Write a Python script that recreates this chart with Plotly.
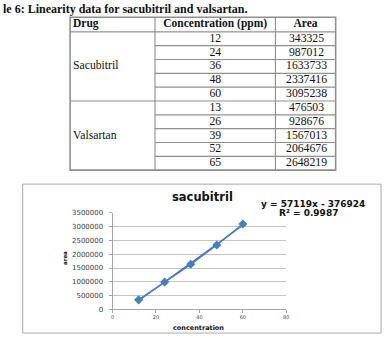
import numpy as np
import plotly.graph_objects as go

# ---------------- data ----------------
caption = "le 6: Linearity data for sacubitril and valsartan."
headers = ["Drug", "Concentration (ppm)", "Area"]
drugs = ["Sacubitril", "Valsartan"]
sac_conc = [12, 24, 36, 48, 60]
sac_area = [343325, 987012, 1633733, 2337416, 3095238]
val_conc = [13, 26, 39, 52, 65]
val_area = [476503, 928676, 1567013, 2064676, 2648219]
chart_title = "sacubitril"
eq_text = "y = 57119x - 376924"
r2_text = "R\u00b2 = 0.9987"
x_title = "concentration"
y_title = "area"
x_ticks = [0, 20, 40, 60, 80]
y_ticks = [0, 500000, 1000000, 1500000, 2000000, 2500000, 3000000, 3500000]

# ---------------- layout geometry (pixels) ----------------
W, H = 389, 338
col_edges = [69, 155, 277, 338]
table_top = 13.5
header_h = 15.0
row_h = 14.17
grid_c = "#8f8f8f"
serif = "Liberation Serif"
sans = "DejaVu Sans"
blue = "#4a7ebb"

fig = go.Figure()

# ---- table text (on a pixel-scaled hidden axis pair) ----
conc_all = sac_conc + val_conc
area_all = sac_area + val_area
body_top = table_top + header_h
row_y = [body_top + (i + 0.5) * row_h for i in range(len(conc_all))]
c2 = (col_edges[1] + col_edges[2]) / 2
c3 = (col_edges[2] + col_edges[3]) / 2 + 1

fig.add_trace(go.Scatter(
    x=[c2] * len(conc_all), y=row_y, text=[str(v) for v in conc_all],
    mode="text", textposition="middle center",
    textfont=dict(family=serif, size=11.7, color="#111"),
    xaxis="x2", yaxis="y2", hoverinfo="skip", showlegend=False))
fig.add_trace(go.Scatter(
    x=[c3] * len(area_all), y=row_y, text=[str(v) for v in area_all],
    mode="text", textposition="middle center",
    textfont=dict(family=serif, size=11.7, color="#111"),
    xaxis="x2", yaxis="y2", hoverinfo="skip", showlegend=False))
n_per = len(sac_conc)
drug_y = [body_top + (k * n_per + n_per / 2) * row_h for k in range(len(drugs))]
fig.add_trace(go.Scatter(
    x=[col_edges[0] + 3] * len(drugs), y=drug_y, text=drugs,
    mode="text", textposition="middle right",
    textfont=dict(family=serif, size=11.7, color="#111"),
    xaxis="x2", yaxis="y2", hoverinfo="skip", showlegend=False))
head_y = table_top + header_h / 2
fig.add_trace(go.Scatter(
    x=[col_edges[0] + 3], y=[head_y], text=[headers[0]],
    mode="text", textposition="middle right",
    textfont=dict(family=serif, size=11.5, color="#111", weight="bold"),
    xaxis="x2", yaxis="y2", hoverinfo="skip", showlegend=False))
fig.add_trace(go.Scatter(
    x=[c2, c3 - 1], y=[head_y, head_y], text=headers[1:],
    mode="text", textposition="middle center",
    textfont=dict(family=serif, size=11.5, color="#111", weight="bold"),
    xaxis="x2", yaxis="y2", hoverinfo="skip", showlegend=False))

# ---- chart ----
fit = np.polyfit(sac_conc, sac_area, 1)
fx = [min(sac_conc), max(sac_conc)]
fig.add_trace(go.Scatter(
    x=fx, y=list(np.polyval(fit, fx)), mode="lines",
    line=dict(color="#3f6fa8", width=1.2), hoverinfo="skip", showlegend=False))
fig.add_trace(go.Scatter(
    x=sac_conc, y=sac_area, mode="lines+markers",
    line=dict(color=blue, width=1.5),
    marker=dict(symbol="diamond", size=7, color=blue),
    showlegend=False))

# ---- shapes ----
shapes = []
def line(x0, y0, x1, y1, w=1.1, c=grid_c):
    shapes.append(dict(type="line", xref="x2", yref="y2", x0=x0, y0=y0, x1=x1, y1=y1,
                       line=dict(color=c, width=w)))

t_bot = body_top + row_h * len(conc_all)
# inner horizontal lines
line(col_edges[0], body_top, col_edges[3], body_top)
for i in range(1, len(conc_all)):
    y = body_top + i * row_h
    x0 = col_edges[0] if i % n_per == 0 else col_edges[1]
    line(x0, y, col_edges[3], y)
for xe in col_edges[1:3]:
    line(xe, table_top, xe, t_bot)
# outer border
shapes.append(dict(type="rect", xref="x2", yref="y2", x0=col_edges[0], y0=table_top,
                   x1=col_edges[3], y1=t_bot, line=dict(color=grid_c, width=1.6)))
# chart frame
shapes.append(dict(type="rect", xref="x2", yref="y2", x0=21, y0=184.5, x1=384, y1=337,
                   line=dict(color="#a8a8a8", width=1)))

annotations = [
    dict(text=caption, x=0, y=5.5, xanchor="left", yanchor="middle",
         font=dict(family=serif, size=12, color="#111", weight="bold")),
    dict(text=chart_title, x=202.6, y=198, xanchor="center", yanchor="middle",
         font=dict(family=sans, size=11.5, color="#111", weight="bold")),
    dict(text=eq_text, x=315, y=205, xanchor="center", yanchor="middle",
         font=dict(family=sans, size=9, color="#111", weight="bold")),
    dict(text=r2_text, x=310, y=214, xanchor="center", yanchor="middle",
         font=dict(family=sans, size=9, color="#111", weight="bold")),
    dict(text=x_title, x=199.5, y=331.5, xanchor="center", yanchor="middle",
         font=dict(family=sans, size=6.5, color="#111", weight="bold")),
    dict(text=y_title, x=64, y=260, xanchor="center", yanchor="middle", textangle=-90,
         font=dict(family=sans, size=5.5, color="#111", weight="bold")),
]
for a in annotations:
    a.update(xref="x2", yref="y2", showarrow=False, borderpad=0)

fig.update_layout(
    width=W, height=H, autosize=False,
    margin=dict(l=0, r=0, t=0, b=0, pad=0),
    paper_bgcolor="white", plot_bgcolor="rgba(0,0,0,0)",
    shapes=shapes, annotations=annotations,
    xaxis=dict(domain=[112 / W, 288 / W], range=[0, 80], tickvals=x_ticks,
               showgrid=False, zeroline=False, showline=True, linecolor="#a6a6a6",
               linewidth=1, ticks="outside", ticklen=3, tickcolor="#a6a6a6",
               tickfont=dict(family=sans, size=5, color="#404040"), anchor="y",
               fixedrange=True),
    yaxis=dict(domain=[1 - 312.7 / H, 1 - 214 / H], range=[0, 3500000], tickvals=y_ticks,
               tickformat="d", showgrid=True, gridcolor="#c4c4c4", gridwidth=1,
               zeroline=False, showline=True, linecolor="#a6a6a6", linewidth=1,
               ticks="outside", ticklen=3, tickcolor="#a6a6a6", ticklabelstandoff=4,
               tickfont=dict(family=sans, size=7, color="#404040"), anchor="x",
               fixedrange=True),
    xaxis2=dict(domain=[0, 1], range=[0, W], visible=False, anchor="y2", fixedrange=True),
    yaxis2=dict(domain=[0, 1], range=[H, 0], visible=False, anchor="x2", fixedrange=True),
)

fig.write_html("out.html")
